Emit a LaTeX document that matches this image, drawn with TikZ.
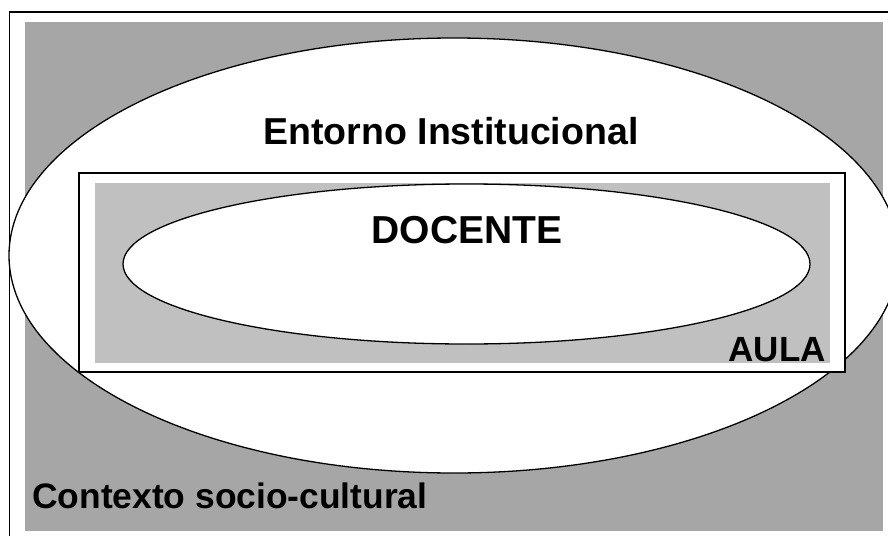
\documentclass[tikz,border=0pt]{standalone}
\usepackage{fontspec}
\setmainfont{Liberation Sans}
\usetikzlibrary{shapes.geometric}
\definecolor{darkbg}{RGB}{166,166,166}
\definecolor{lightbg}{RGB}{192,192,192}
\tikzset{
  lbl/.style={font=\bfseries, inner sep=0pt, anchor=base},
  oval/.style={ellipse, draw=black, fill=white, line width=1.3pt, inner sep=0pt},
}
\begin{document}
\begin{tikzpicture}[x=1pt,y=-1pt]
\useasboundingbox (0,0) rectangle (888,535);
\clip (0,0) rectangle (888,535);
% outer frame
\draw[line width=1.8pt] (9.5,600) -- (9.5,12) -- (950,12);
% socio-cultural background
\fill[darkbg] (25,22) rectangle (883,531);
% institutional ellipse
\node[oval, minimum width=890pt, minimum height=435pt] (entorno) at (454,255.5) {};
% aula box
\node[draw=black, fill=white, line width=1.5pt, minimum width=766pt, minimum height=199pt, inner sep=0pt] (aulabox) at (462,272.5) {};
\node[fill=lightbg, minimum width=735pt, minimum height=180pt, inner sep=0pt] (aulagray) at (462.5,273) {};
% docente ellipse
\node[oval, minimum width=687pt, minimum height=160pt] (docente) at (466.5,264) {};
% labels
\node[lbl] (tEntorno) at (451,144) {\fontsize{37.5}{42}\selectfont Entorno Institucional};
\node[lbl] (tDocente) at (467,243) {\fontsize{39}{44}\selectfont DOCENTE};
\node[lbl, anchor=base east] (tAula) at (826,361) {\fontsize{35}{40}\selectfont AULA};
\node[lbl, anchor=base west] (tContexto) at (32,508) {\fontsize{35.4}{40}\selectfont Contexto socio-cultural};
\end{tikzpicture}
\end{document}
